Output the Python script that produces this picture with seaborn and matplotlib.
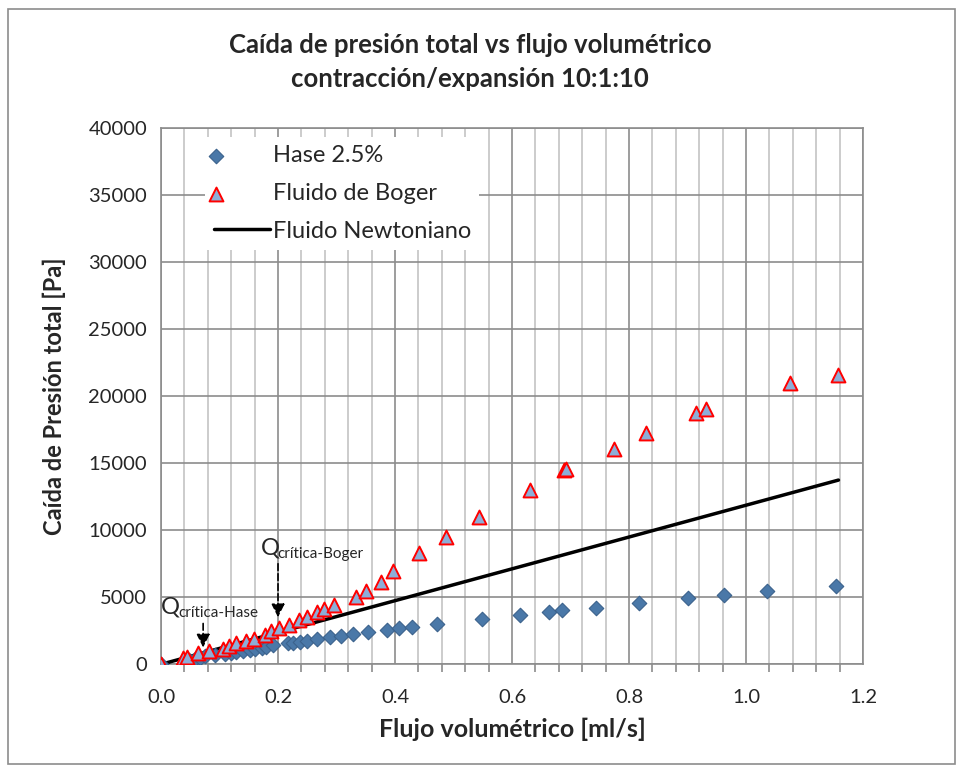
import numpy as np
import pandas as pd
import matplotlib
matplotlib.use("Agg")
import matplotlib.pyplot as plt
import seaborn as sns
from matplotlib.patches import Rectangle
from matplotlib.ticker import MultipleLocator
from matplotlib.legend_handler import HandlerPathCollection

# Hase 2.5% series
hase_q = [0, 0.048, 0.058, 0.066, 0.076, 0.092, 0.110, 0.120, 0.129, 0.140,
          0.152, 0.160, 0.172, 0.180, 0.191, 0.217, 0.226, 0.237, 0.249, 0.266,
          0.288, 0.308, 0.328, 0.354, 0.386, 0.406, 0.429, 0.472, 0.548, 0.614,
          0.664, 0.685, 0.744, 0.817, 0.900, 0.962, 1.035, 1.153]
hase_dp = [0, 330, 400, 470, 600, 700, 800, 860, 940, 1015,
           1070, 1110, 1190, 1300, 1440, 1565, 1610, 1685, 1760, 1900,
           2050, 2130, 2260, 2400, 2555, 2680, 2800, 2980, 3375, 3670,
           3920, 4020, 4220, 4540, 4915, 5190, 5460, 5810]

# Fluido de Boger series
boger_q = [0, 0.038, 0.044, 0.063, 0.082, 0.106, 0.117, 0.128, 0.146, 0.159,
           0.177, 0.188, 0.201, 0.219, 0.236, 0.250, 0.266, 0.278, 0.295, 0.333,
           0.350, 0.376, 0.396, 0.441, 0.487, 0.543, 0.631, 0.688, 0.693, 0.774,
           0.829, 0.914, 0.932, 1.075, 1.158]
boger_dp = [0, 445, 520, 820, 970, 1140, 1385, 1565, 1735, 1910,
            2180, 2480, 2680, 2930, 3300, 3550, 3870, 4095, 4420, 5040,
            5460, 6150, 6950, 8315, 9510, 10950, 12985, 14500, 14560, 16020,
            17210, 18745, 19000, 20980, 21550]

# Newtonian reference line
newton_q = [0, 1.158]
newton_dp = [0, 13730]

# critical flow rates (arrows)
q_crit_hase = 0.072
q_crit_boger = 0.200

hase = pd.DataFrame({"q": hase_q, "dp": hase_dp})
boger = pd.DataFrame({"q": boger_q, "dp": boger_dp})
newton = pd.DataFrame({"q": newton_q, "dp": newton_dp})


class LeftMarker(HandlerPathCollection):
    # put the marker at the left end of the legend key, like Excel does
    def get_xdata(self, legend, xdescent, ydescent, width, height, fontsize):
        x = [-xdescent + 0.04 * width]
        return x, x


sns.set_style("white")
plt.rcParams["font.family"] = ["Lato", "DejaVu Sans"]

fig = plt.figure(figsize=(9.63, 7.73), dpi=100)
ax = fig.add_axes([0.1672, 0.1406, 0.729, 0.6944])

sns.lineplot(data=newton, x="q", y="dp", ax=ax, color="black", lw=2.5,
             label="Fluido Newtoniano", zorder=3)
sns.scatterplot(data=hase, x="q", y="dp", ax=ax, marker="D", s=55,
                color="#4a78a8", edgecolor="#3b628c", linewidth=0.8,
                label="Hase 2.5%", zorder=4)
sns.scatterplot(data=boger, x="q", y="dp", ax=ax, marker="^", s=100,
                color="#8caed8", edgecolor="#ff0000", linewidth=1.4,
                label="Fluido de Boger", zorder=5)

ax.set_xlim(0, 1.2)
ax.set_ylim(0, 40000)
ax.xaxis.set_major_locator(MultipleLocator(0.2))
ax.xaxis.set_minor_locator(MultipleLocator(0.04))
ax.yaxis.set_major_locator(MultipleLocator(5000))
ax.set_xticklabels([f"{v:.1f}" for v in ax.get_xticks()])

ax.grid(which="major", axis="both", color="#8c8c8c", lw=1.2)
ax.grid(which="minor", axis="x", color="#c8c8c8", lw=1.3)
ax.set_axisbelow(True)
for s in ax.spines.values():
    s.set_color("#8c8c8c")
    s.set_linewidth(1.2)
ax.tick_params(which="both", direction="out", color="#8c8c8c", width=1.2,
               labelsize=14.5, pad=4.5)
ax.tick_params(which="major", length=5.5)
ax.tick_params(which="minor", length=5.5, bottom=True)
ax.tick_params(axis="x", pad=12)

ax.set_xlabel("Flujo volumétrico [ml/s]", fontsize=18, fontweight="bold",
              labelpad=9)
ax.set_ylabel("Caída de Presión total [Pa]", fontsize=17, fontweight="bold",
              labelpad=16)

fig.text(0.488, 0.942, "Caída de presión total vs flujo volumétrico",
         ha="center", va="center", fontsize=18.5, fontweight="bold")
fig.text(0.488, 0.898, "contracción/expansión 10:1:10",
         ha="center", va="center", fontsize=18.5, fontweight="bold")

# critical flow annotations
ax.annotate("", xy=(q_crit_hase, 1050), xytext=(q_crit_hase, 3250),
            arrowprops=dict(arrowstyle="-|>", linestyle=(0, (4, 2)),
                            color="black", lw=1.2, mutation_scale=20))
ax.text(0.0, 3800, "Q", fontsize=17, ha="left", va="baseline")
ax.text(0.029, 3550, "crítica-Hase", fontsize=11, ha="left", va="baseline")
ax.annotate("", xy=(q_crit_boger, 3300), xytext=(q_crit_boger, 7700),
            arrowprops=dict(arrowstyle="-|>", linestyle=(0, (4, 2)),
                            color="black", lw=1.2, mutation_scale=20))
ax.text(0.170, 8150, "Q", fontsize=17, ha="left", va="baseline")
ax.text(0.199, 7900, "crítica-Boger", fontsize=11, ha="left", va="baseline")

handles, labels = ax.get_legend_handles_labels()
order = [labels.index(k) for k in ["Hase 2.5%", "Fluido de Boger", "Fluido Newtoniano"]]
handles = [handles[i] for i in order]
leg = ax.legend(handles, [labels[i] for i in order],
                loc="upper left", bbox_to_anchor=(0.063, 0.982), fontsize=17,
                frameon=True, facecolor="white", edgecolor="none",
                framealpha=1, fancybox=False, handlelength=2.4,
                handletextpad=0.1, labelspacing=0.7, borderpad=0.35,
                borderaxespad=0,
                handler_map={handles[0]: LeftMarker(), handles[1]: LeftMarker()})

fig.patches.append(Rectangle((0.008, 0.012), 0.984, 0.976, transform=fig.transFigure,
                             fill=False, edgecolor="#8c8c8c", lw=1.2))

fig.savefig("out.png", dpi=100)
